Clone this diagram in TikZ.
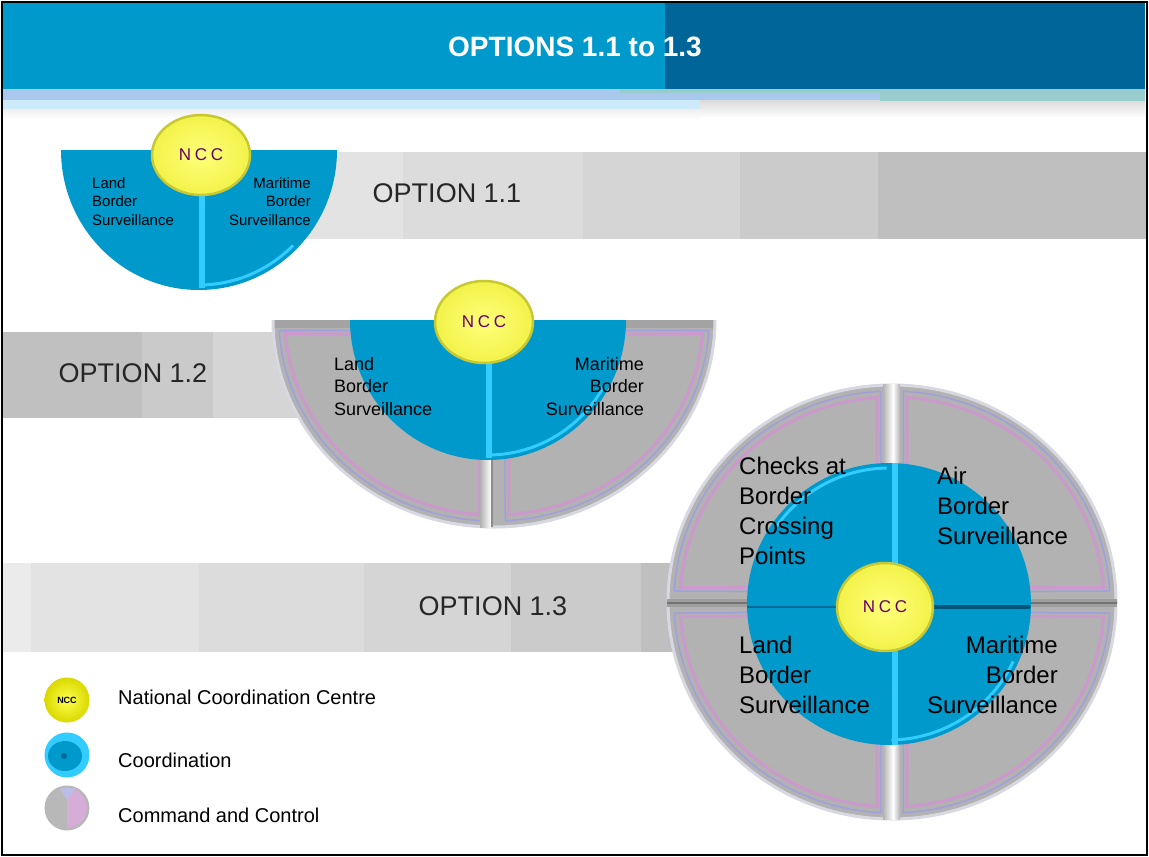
\documentclass[tikz,border=0pt]{standalone}
\usepackage{fontspec}
\setmainfont{Liberation Sans}
\newfontfamily\nccfont[LetterSpace=22]{Liberation Sans}
\usetikzlibrary{shapes.geometric}
\definecolor{hdrblue}{HTML}{0099CC}
\definecolor{hdrdark}{HTML}{006699}
\definecolor{stripblue}{HTML}{A9C8EE}
\definecolor{stripteal}{HTML}{99CCCC}
\definecolor{stripcyan}{HTML}{CCEAFA}
\definecolor{coordblue}{HTML}{0099CC}
\definecolor{cyanhl}{HTML}{33CCFF}
\definecolor{divblue}{HTML}{006B99}
\definecolor{cmdgray}{HTML}{B2B2B2}
\definecolor{topedge}{HTML}{A3A3A3}
\definecolor{rimlight}{HTML}{D8D8E2}
\definecolor{bevpink}{HTML}{CC99CC}
\definecolor{bevlav}{HTML}{A0A0DD}
\definecolor{nccin}{HTML}{FFFF7A}
\definecolor{nccout}{HTML}{F2F24A}
\definecolor{nccedge}{HTML}{C8C832}
\definecolor{nccpurple}{HTML}{660066}
\definecolor{bandA}{HTML}{EBEBEB}
\definecolor{bandB}{HTML}{E3E3E3}
\definecolor{bandC}{HTML}{DCDCDC}
\definecolor{bandD}{HTML}{D5D5D5}
\definecolor{bandE}{HTML}{CBCBCB}
\definecolor{bandF}{HTML}{BFBFBF}
\definecolor{bandG}{HTML}{C0C0C0}
\definecolor{bandH}{HTML}{CACACA}
\tikzset{
  ncc/.style={ellipse, draw=nccedge, line width=2.5, inner color=nccin, outer color=nccout,
    text=nccpurple, inner sep=0, font=\nccfont\fontsize{17}{19}\selectfont},
  lblsmall/.style={inner sep=0, font=\fontsize{15}{18.5}\selectfont},
  lblmid/.style={inner sep=0, font=\fontsize{18}{22.5}\selectfont},
  lblbig/.style={inner sep=0, font=\fontsize{24}{30}\selectfont},
  optlbl/.style={inner sep=0, font=\fontsize{27}{30}\selectfont, text=black!85},
  legtext/.style={inner sep=0, anchor=west, font=\fontsize{20}{24}\selectfont},
  pinkbev/.style={draw=bevpink, line width=3},
  lavbev/.style={draw=bevlav, line width=1.5},
}
\begin{document}
\begin{tikzpicture}[x=1pt,y=-1pt]
\useasboundingbox (0,0) rectangle (1149,857);
\fill[white] (0,0) rectangle (1149,857);

% header
\fill[hdrblue] (3,3) rectangle (665,89);
\fill[hdrdark] (665,3) rectangle (1145,89);
\node[text=white, font=\bfseries\fontsize{28}{30}\selectfont, inner sep=0] (title) at (575,47) {OPTIONS 1.1 to 1.3};

% strip below header
\shade[top color=black!8, bottom color=white] (3,106) rectangle (1145,120);
\shade[top color=black!14, bottom color=white] (700,100) rectangle (1145,118);
\fill[stripblue] (3,89) rectangle (1145,100);
\fill[stripteal] (620,89) rectangle (1145,93);
\fill[stripteal] (880,89) rectangle (1145,101);
\fill[stripcyan] (3,100) rectangle (700,109);

% band option 1.1
\fill[bandB] (300,152) rectangle (403,239);
\fill[bandC] (403,152) rectangle (583,239);
\fill[bandD] (583,152) rectangle (740,239);
\fill[bandE] (740,152) rectangle (878,239);
\fill[bandF] (878,152) rectangle (1146,239);
\node[optlbl] (opt11) at (447,193) {OPTION 1.1};

% band option 1.2
\fill[bandG] (3,332) rectangle (142,418);
\fill[bandH] (142,332) rectangle (213,418);
\fill[bandD] (213,332) rectangle (320,418);
\node[optlbl] (opt12) at (133,373) {OPTION 1.2};

% band option 1.3
\fill[bandA] (3,563) rectangle (31,652);
\fill[bandB] (31,563) rectangle (199,652);
\fill[bandC] (199,563) rectangle (364,652);
\fill[bandD] (364,563) rectangle (511,652);
\fill[bandE] (511,563) rectangle (641,652);
\fill[bandF] (641,563) rectangle (720,652);
\node[optlbl] (opt13) at (493,606) {OPTION 1.3};

% ---------- option 1.1 ----------
\begin{scope}[shift={(199,150)}]
  \fill[coordblue] (138,0) arc[start angle=0, end angle=180, x radius=138, y radius=140] -- cycle;
  \draw[cyanhl, line width=3] (45:133 and 135) arc[start angle=45, end angle=89, x radius=133, y radius=135];
  \draw[cyanhl, line width=6] (3,40) -- (3,138);
\end{scope}
\node[ncc, minimum width=98, minimum height=80] (ncc11) at (201,155) {NCC};
\node[lblsmall, anchor=north west, align=left] (land11) at (92,177) {Land\\Border\\Surveillance};
\node[lblsmall, anchor=north east, align=right] (mar11) at (311,177) {Maritime\\Border\\Surveillance};

% ---------- option 1.2 ----------
\begin{scope}[shift={(494,320)}]
  \fill[cmdgray] (222,0) arc[start angle=0, end angle=180, x radius=222, y radius=208] -- cycle;
  \fill[topedge] (-220,0) rectangle (220,8);
  \draw[rimlight, line width=3] (221,0) arc[start angle=0, end angle=180, x radius=221, y radius=207];
  \draw[lavbev] (177:215 and 201) arc[start angle=177, end angle=93, x radius=215, y radius=201] -- (-11,10) -- cycle;
  \draw[pinkbev] (176:209 and 195) arc[start angle=176, end angle=94, x radius=209, y radius=195] -- (-16,15) -- cycle;
  \draw[lavbev] (3:215 and 201) arc[start angle=3, end angle=87, x radius=215, y radius=201] -- (11,10) -- cycle;
  \draw[pinkbev] (4:209 and 195) arc[start angle=4, end angle=86, x radius=209, y radius=195] -- (16,15) -- cycle;
  \shade[left color=cmdgray, right color=white] (-14,130) rectangle (-3,207);
  \draw[black!45, line width=1.5] (-2,130) -- (-2,207);
\end{scope}
\begin{scope}[shift={(488,320)}]
  \fill[coordblue] (138,0) arc[start angle=0, end angle=180, x radius=138, y radius=140] -- cycle;
  \draw[cyanhl, line width=3] (30:133 and 135) arc[start angle=30, end angle=89, x radius=133, y radius=135];
  \draw[cyanhl, line width=6] (1,40) -- (1,138);
\end{scope}
\node[ncc, minimum width=98, minimum height=82] (ncc12) at (484,322) {NCC};
\node[lblmid, anchor=north west, align=left] (land12) at (334,357) {Land\\Border\\Surveillance};
\node[lblmid, anchor=north east, align=right] (mar12) at (644,357) {Maritime\\Border\\Surveillance};

% ---------- option 1.3 ----------
\begin{scope}[shift={(892,602)}]
  \fill[cmdgray] (0,0) ellipse[x radius=225, y radius=218];
  \draw[rimlight, line width=3] (0,0) ellipse[x radius=224, y radius=217];
  \draw[lavbev] (177:218 and 211) arc[start angle=177, end angle=93, x radius=218, y radius=211] -- (-11,10) -- cycle;
  \draw[pinkbev] (176:212 and 205) arc[start angle=176, end angle=94, x radius=212, y radius=205] -- (-16,15) -- cycle;
  \draw[lavbev] (3:218 and 211) arc[start angle=3, end angle=87, x radius=218, y radius=211] -- (11,10) -- cycle;
  \draw[pinkbev] (4:212 and 205) arc[start angle=4, end angle=86, x radius=212, y radius=205] -- (16,15) -- cycle;
  \draw[lavbev] (183:218 and 211) arc[start angle=183, end angle=267, x radius=218, y radius=211] -- (-11,-10) -- cycle;
  \draw[pinkbev] (184:212 and 205) arc[start angle=184, end angle=266, x radius=212, y radius=205] -- (-16,-15) -- cycle;
  \draw[lavbev] (357:218 and 211) arc[start angle=357, end angle=273, x radius=218, y radius=211] -- (11,-10) -- cycle;
  \draw[pinkbev] (356:212 and 205) arc[start angle=356, end angle=274, x radius=212, y radius=205] -- (16,-15) -- cycle;
  \begin{scope}
    \clip (0,0) ellipse[x radius=225, y radius=218];
    \fill[black!38] (-226,-3) rectangle (226,5);
    \draw[black!55, line width=1.5] (-226,1) -- (226,1);
    \shade[left color=cmdgray, right color=white] (-9,-219) rectangle (1,219);
    \shade[left color=white, right color=cmdgray] (1,-219) rectangle (8,219);
  \end{scope}
\end{scope}
\begin{scope}[shift={(889,604)}]
  \fill[coordblue] (0,0) ellipse[x radius=142, y radius=141];
  \draw[cyanhl, line width=3] (215:137 and 136) arc[start angle=215, end angle=269, x radius=137, y radius=136];
  \draw[cyanhl, line width=3] (25:137 and 136) arc[start angle=25, end angle=89, x radius=137, y radius=136];
  \draw[cyanhl, line width=6] (6,-141) -- (6,141);
  \draw[divblue, line width=2] (-142,3) -- (142,3);
  \draw[divblue!80!black, line width=4] (40,3) -- (141,3);
\end{scope}
\node[ncc, minimum width=96, minimum height=88] (ncc13) at (885,607) {NCC};
\node[lblbig, anchor=north west, align=left] (checks13) at (739,457) {Checks at\\Border\\Crossing\\Points};
\node[lblbig, anchor=north west, align=left] (air13) at (937,467) {Air\\Border\\Surveillance};
\node[lblbig, anchor=north west, align=left] (land13) at (739,636) {Land\\Border\\Surveillance};
\node[lblbig, anchor=north east, align=right] (mar13) at (1058,636) {Maritime\\Border\\Surveillance};

% ---------- legend ----------
\node[circle, minimum size=45, inner sep=0, inner color=yellow!70, outer color=yellow!85!black,
      font=\bfseries\fontsize{9}{10}\selectfont, text=black] (legncc) at (67,700) {NCC};
\node[circle, minimum size=45, inner sep=0, fill=cyanhl] (legcoord) at (67,755) {};
\fill[coordblue] (65,756) ellipse[x radius=17, y radius=15];
\fill[divblue] (64,756) circle[radius=3];
\node[circle, minimum size=45, inner sep=0, fill=black!28] (legcmd) at (67,808) {};
\fill[bevpink!80] (67,788) arc[start angle=270, end angle=450, radius=20] -- cycle;
\fill[bevlav!70] (60,789) arc[start angle=250, end angle=290, radius=22] -- (67,800) -- cycle;
\node[legtext] (legt1) at (118,697.5) {National Coordination Centre};
\node[legtext] (legt2) at (118,760) {Coordination};
\node[legtext] (legt3) at (118,815) {Command and Control};

% frame
\draw[black, line width=2.5] (2,2) rectangle (1147,855);
\end{tikzpicture}
\end{document}
